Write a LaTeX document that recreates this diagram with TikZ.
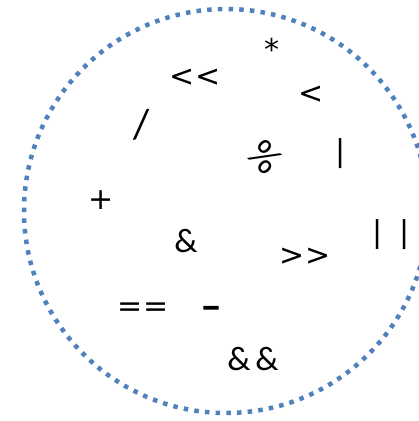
\documentclass[tikz,border=0pt]{standalone}
\usepackage{fontspec}
\setmainfont{Carlito}
\newfontfamily\symfont{DejaVu Sans}
\definecolor{dotblue}{RGB}{79,129,189}
\begin{document}
\begin{tikzpicture}[x=1pt,y=1pt,
  op/.style={font=\symfont\fontsize{30}{30}\selectfont, inner sep=0pt, anchor=center},
  wd/.style={font=\fontsize{34}{34}\selectfont, inner sep=0pt, anchor=center},
  ring/.style={draw=dotblue, line width=4.5pt, dash pattern=on 4.5pt off 6.2pt}]
\useasboundingbox (0,0) rectangle (419,421);
\fill[white] (0,0) rectangle (419,421);
\draw[ring] (226,210) circle[radius=202];
\node[op] (star) at (272,372) {*};
\node[op] (ll) at (195,343) {<<};
\node[op] (lt) at (311,326) {<};
\node[wd, font=\fontsize{42}{42}\selectfont] (slash) at (142,296) {/};
\node[wd, font=\fontsize{40}{40}\selectfont, rotate=-45] (pct) at (265,264) {\%};
\node[op] (bar) at (341,267) {|};
\node[op] (plus) at (101,221) {+};
\node[wd] (amp) at (186,180) {\&};
\node[op] (gg) at (305,164) {>>};
\node[op] (oror) at (391,186) {|\hspace{17pt}|};
\node[op] (eqeq) at (143,111) {==};
\node[op, font=\symfont\bfseries\fontsize{30}{30}\selectfont, xscale=1.3] (minus) at (211,110) {–};
\node[wd] (andand) at (253,62) {\&\hspace{5pt}\&};
\end{tikzpicture}
\end{document}
